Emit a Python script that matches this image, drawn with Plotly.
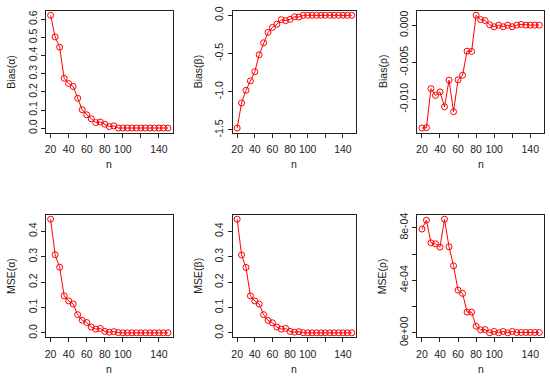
import plotly.graph_objects as go

n = list(range(20, 151, 5))

bias_alpha = [0.622, 0.503, 0.446, 0.275, 0.246, 0.230, 0.165, 0.102, 0.074, 0.052,
              0.031, 0.034, 0.022, 0.009, 0.013, 0.001, 0.001, 0.001, 0.001, 0.001,
              0.001, 0.001, 0.001, 0.001, 0.001, 0.001, 0.001]
bias_beta = [-1.475, -1.148, -0.982, -0.859, -0.740, -0.518, -0.361, -0.225, -0.161, -0.119,
             -0.059, -0.072, -0.055, -0.021, -0.025, -0.002, -0.002, -0.002, -0.002, -0.002,
             -0.002, -0.002, -0.002, -0.002, -0.002, -0.002, -0.002]
bias_rho = [-0.01388, -0.01383, -0.00855, -0.00947, -0.00899, -0.01101, -0.00740, -0.01167,
            -0.00736, -0.00674, -0.00348, -0.00352, 0.00137, 0.00079, 0.00066, 0.00009,
            -0.00018, 0.00004, -0.00018, 0.00004, -0.00018, 0.00004, 0.00013, 0.00004,
            0.00004, 0.00004, 0.00004]
mse_alpha = [0.448, 0.308, 0.259, 0.146, 0.126, 0.114, 0.072, 0.050, 0.041, 0.023,
             0.015, 0.018, 0.006, 0.003, 0.005, 0.001, 0.0005, 0.0005, 0.0005, 0.0005,
             0.0005, 0.0005, 0.0005, 0.0005, 0.0005, 0.0005, 0.0005]
mse_beta = [0.448, 0.307, 0.258, 0.146, 0.126, 0.114, 0.072, 0.049, 0.040, 0.023,
            0.015, 0.018, 0.006, 0.003, 0.005, 0.001, 0.0005, 0.0005, 0.0005, 0.0005,
            0.0005, 0.0005, 0.0005, 0.0005, 0.0005, 0.0005, 0.0005]
mse_rho = [7.90e-4, 8.575e-4, 6.85e-4, 6.775e-4, 6.525e-4, 8.65e-4, 6.55e-4, 5.10e-4,
           3.25e-4, 3.00e-4, 1.575e-4, 1.575e-4, 0.50e-4, 0.225e-4, 0.25e-4, 0.0,
           0.10e-4, 0.0, 0.10e-4, 0.0, 0.10e-4, 0.025e-4, 0.025e-4, 0.025e-4,
           0.025e-4, 0.025e-4, 0.025e-4]

x_tickvals = [20, 40, 60, 80, 100, 120, 140]
x_ticktext = ["20", "40", "60", "80", "100", "", "140"]

panels = [
    dict(y=bias_alpha, title="Bias(α)", tv=[0, 0.1, 0.2, 0.3, 0.4, 0.5, 0.6],
         tt=["0.0", "0.1", "0.2", "0.3", "0.4", "0.5", "0.6"]),
    dict(y=bias_beta, title="Bias(β)", tv=[-1.5, -1.0, -0.5, 0.0],
         tt=["-1.5", "-1.0", "-0.5", "0.0"]),
    dict(y=bias_rho, title="Bias(ρ)", tv=[-0.010, -0.005, 0.0],
         tt=["-0.010", "-0.005", "0.000"]),
    dict(y=mse_alpha, title="MSE(α)", tv=[0, 0.1, 0.2, 0.3, 0.4],
         tt=["0.0", "0.1", "0.2", "0.3", "0.4"]),
    dict(y=mse_beta, title="MSE(β)", tv=[0, 0.1, 0.2, 0.3, 0.4],
         tt=["0.0", "0.1", "0.2", "0.3", "0.4"]),
    dict(y=mse_rho, title="MSE(ρ)", tv=[0, 2e-4, 4e-4, 6e-4, 8e-4],
         tt=["0e+00", "", "4e-04", "", "8e-04"]),
]

W, H = 550, 384
xboxes = [(45, 172), (232, 356), (417, 544)]
yboxes = [(6, 132), (217, 344)]

fig = go.Figure()
font = dict(family="Liberation Sans, Arial, sans-serif", size=10.5, color="#222")
layout = dict(width=W, height=H, margin=dict(l=0, r=0, t=0, b=0),
              paper_bgcolor="white", plot_bgcolor="white", showlegend=False,
              font=font)
annotations = []


def px(v):
    return v / W


def py(v):
    return 1 - v / H


for i, p in enumerate(panels):
    r, c = divmod(i, 3)
    k = i + 1
    xa = "x" if k == 1 else f"x{k}"
    ya = "y" if k == 1 else f"y{k}"
    fig.add_trace(go.Scatter(
        x=n, y=p["y"], mode="lines+markers", xaxis=xa, yaxis=ya,
        line=dict(color="#ff0000", width=1),
        marker=dict(symbol="circle-open", size=6, color="#ff0000", line=dict(width=1)),
    ))
    x0, x1 = xboxes[c]
    y0, y1 = yboxes[r]
    ymin, ymax = min(p["y"]), max(p["y"])
    pad = 0.04 * (ymax - ymin)
    axcommon = dict(showline=True, mirror=True, linecolor="#222", linewidth=1,
                    ticks="outside", ticklen=4, tickwidth=1, tickcolor="#222",
                    showgrid=False, zeroline=False, tickfont=font)
    layout["xaxis" if k == 1 else f"xaxis{k}"] = dict(
        domain=[px(x0), px(x1)], range=[14.8, 155.2], anchor=ya,
        tickmode="array", tickvals=x_tickvals, ticktext=x_ticktext,
        ticklabelstandoff=3, **axcommon)
    layout["yaxis" if k == 1 else f"yaxis{k}"] = dict(
        domain=[py(y1), py(y0)], range=[ymin - pad, ymax + pad], anchor=xa,
        tickmode="array", tickvals=p["tv"], ticktext=p["tt"], tickangle=-90,
        **axcommon)
    annotations.append(dict(text="n", x=px((x0 + x1) / 2), y=py(y1 + 33),
                            xref="paper", yref="paper", showarrow=False,
                            xanchor="center", yanchor="middle", font=font))
    annotations.append(dict(text=p["title"], x=px(x0 - 35), y=py((y0 + y1) / 2),
                            xref="paper", yref="paper", showarrow=False, textangle=-90,
                            xanchor="center", yanchor="middle", font=font))

layout["annotations"] = annotations
fig.update_layout(**layout)
fig.write_html("out.html", config={"displayModeBar": False},
               post_script="document.body.style.margin='0';document.body.style.overflow='hidden';")
